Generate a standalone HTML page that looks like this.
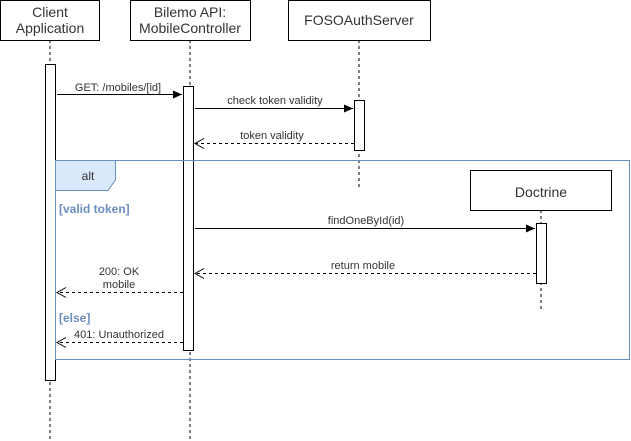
<!DOCTYPE html>
<html><head><meta charset="utf-8"><style>
html,body{margin:0;padding:0;background:#fff;}
svg{display:block;font-family:"Liberation Sans",Arial,sans-serif;}
</style></head><body>
<svg width="631" height="441" viewBox="0 0 631 441" xmlns="http://www.w3.org/2000/svg">
<defs>
<marker id="fa" markerWidth="10" markerHeight="10" refX="9" refY="5" orient="auto" markerUnits="userSpaceOnUse"><path d="M0,1 L9,5 L0,9 Z" fill="#000"/></marker>
<marker id="oa" markerWidth="12" markerHeight="12" refX="10" refY="6" orient="auto" markerUnits="userSpaceOnUse"><path d="M1,1 L10,6 L1,11" fill="none" stroke="#000"/></marker>
</defs>
<g stroke="#000" stroke-dasharray="3,3" fill="none">
<line x1="50" y1="40" x2="50" y2="441"/>
<line x1="190" y1="40" x2="190" y2="441"/>
<line x1="359" y1="40" x2="359" y2="187"/>
<line x1="541" y1="210" x2="541" y2="309"/>
</g>
<g fill="#fff" stroke="#000">
<rect x="0.5" y="0.5" width="99" height="40"/>
<rect x="130.5" y="0.5" width="120" height="40"/>
<rect x="288.5" y="0.5" width="142" height="40"/>
<rect x="45.5" y="64.5" width="10" height="316"/>
<rect x="183.5" y="86.5" width="10" height="264"/>
<rect x="354.5" y="100.5" width="10" height="50"/>
</g>
<g font-size="14" fill="#333" text-anchor="middle">
<text x="50" y="17">Client</text><text x="50" y="33">Application</text>
<text x="190" y="17">Bilemo API:</text><text x="190" y="33">MobileController</text>
<text x="359" y="25">FOSOAuthServer</text>
</g>
<rect x="55.5" y="160.5" width="574" height="199" fill="none" stroke="#6c8ebf"/>
<path d="M55.5,160.5 H115.5 V180 L108,190.5 H55.5 Z" fill="#dae8fc" stroke="#6c8ebf"/>
<text x="88" y="180" font-size="12" fill="#333" text-anchor="middle">alt</text>
<g fill="#fff" stroke="#000">
<rect x="470.5" y="170.5" width="141" height="40"/>
<rect x="536.5" y="223.5" width="10" height="60"/>
</g>
<text x="541" y="197" font-size="14" fill="#333" text-anchor="middle">Doctrine</text>
<g font-size="12" font-weight="bold" fill="#6c8ebf">
<text x="59" y="213">[valid token]</text>
<text x="59" y="322">[else]</text>
</g>
<g stroke="#000">
<line x1="57" y1="94.5" x2="182" y2="94.5" marker-end="url(#fa)"/>
<line x1="195" y1="108.5" x2="353" y2="108.5" marker-end="url(#fa)"/>
<line x1="195" y1="228.5" x2="535" y2="228.5" marker-end="url(#fa)"/>
</g>
<g stroke="#000" stroke-dasharray="3,3">
<line x1="354" y1="143.5" x2="195" y2="143.5" marker-end="url(#oa)"/>
<line x1="536" y1="273.5" x2="195" y2="273.5" marker-end="url(#oa)"/>
<line x1="183" y1="292.5" x2="57" y2="292.5" marker-end="url(#oa)"/>
<line x1="183" y1="342.5" x2="57" y2="342.5" marker-end="url(#oa)"/>
</g>
<g font-size="11" fill="#333" text-anchor="middle">
<text x="118" y="91">GET: /mobiles/[id]</text>
<text x="275" y="104">check token validity</text>
<text x="272" y="139">token validity</text>
<text x="366" y="224">findOneById(id)</text>
<text x="363" y="269">return mobile</text>
<text x="119" y="275">200: OK</text>
<text x="119" y="288">mobile</text>
<text x="119" y="338">401: Unauthorized</text>
</g>
</svg>
</body></html>
